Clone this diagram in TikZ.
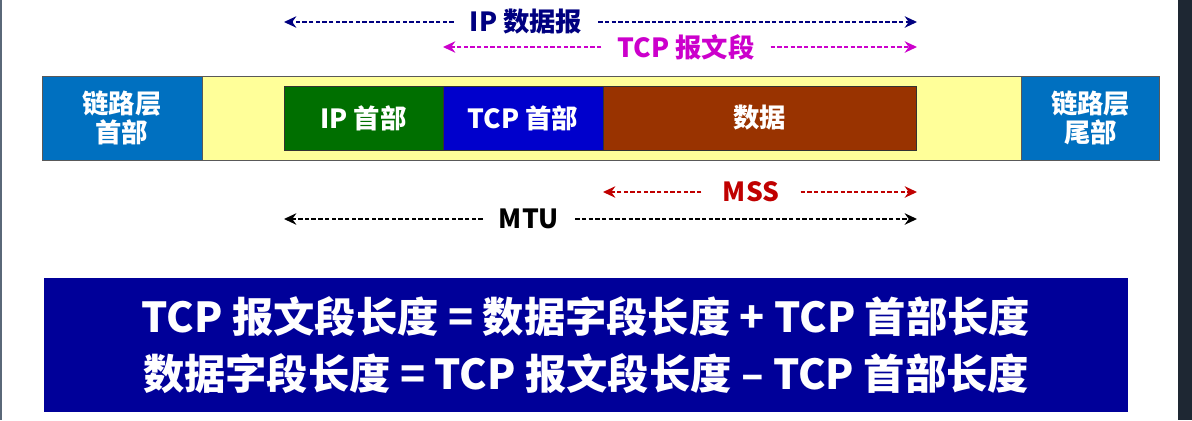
\documentclass[tikz,border=0pt]{standalone}
\usepackage{fontspec}
\setmainfont{Noto Sans CJK SC}
\usetikzlibrary{arrows.meta, positioning}
\definecolor{LinkBlue}{HTML}{0070C0}
\definecolor{PadYellow}{HTML}{FFFF99}
\definecolor{IpGreen}{HTML}{006F00}
\definecolor{TcpBlue}{HTML}{0000CC}
\definecolor{DataBrown}{HTML}{993300}
\definecolor{NavyArrow}{HTML}{000080}
\definecolor{SegMagenta}{HTML}{CC00CC}
\definecolor{MssRed}{HTML}{C00000}
\definecolor{FormulaBlue}{HTML}{000099}
\definecolor{EdgeGrey}{HTML}{5A6878}
\definecolor{SideDark}{HTML}{1E2733}

\begin{document}
\begin{tikzpicture}[x=0.02cm, y=-0.02cm,
            field/.style={rectangle, inner sep=0pt, outer sep=0pt, align=center, text=white, font=\fontsize{15}{17}\selectfont\bfseries},
            frame/.style={field, minimum height=1.68cm, draw=gray!70!black, line width=0.5pt},
            part/.style={field, minimum height=1.28cm, draw=black!80, line width=0.5pt},
            span/.style={font=\fontsize{15}{17}\selectfont\bfseries, inner ysep=0pt, inner xsep=9pt},
            dim/.style={-{Stealth[length=7pt, width=6.5pt]}, line width=1.1pt, dash pattern=on 2.5pt off 1.3pt},
            formula/.style={rectangle, fill=FormulaBlue, text=white, align=center, minimum width=21.68cm, minimum height=2.68cm, font=\fontsize{23.5}{32}\selectfont\bfseries}
        ]
            \fill[white] (0,0) rectangle (1192,420);
            \fill[EdgeGrey] (0,0) rectangle (2,420);
            \fill[SideDark] (1178,0) rectangle (1192,420);

            \node[frame, fill=LinkBlue, minimum width=3.2cm, anchor=north west] (linkhdr) at (42,76) {链路层\\首部};
            \node[frame, fill=PadYellow, minimum width=16.4cm, right=0pt of linkhdr] (payload) {};
            \node[frame, fill=LinkBlue, minimum width=2.76cm, right=0pt of payload] (linktrl) {链路层\\尾部};

            \node[part, fill=IpGreen, minimum width=3.18cm, anchor=west] (iphdr) at (284,118) {IP 首部};
            \node[part, fill=TcpBlue, minimum width=3.2cm, right=0pt of iphdr] (tcphdr) {TCP 首部};
            \node[part, fill=DataBrown, minimum width=6.28cm, right=0pt of tcphdr] (data) {数据};

            \coordinate (ipL) at (284,22);
            \coordinate (ipR) at (917,22);
            \node[span, text=NavyArrow] (iplabel) at (526,22) {IP 数据报};
            \draw[dim, NavyArrow] (iplabel.west) -- (ipL);
            \draw[dim, NavyArrow] (iplabel.east) -- (ipR);

            \coordinate (segL) at (443,47);
            \coordinate (segR) at (917,47);
            \node[span, text=SegMagenta] (seglabel) at (686,47) {TCP 报文段};
            \draw[dim, SegMagenta] (seglabel.west) -- (segL);
            \draw[dim, SegMagenta] (seglabel.east) -- (segR);

            \coordinate (mssL) at (603,192);
            \coordinate (mssR) at (917,192);
            \node[span, text=MssRed, inner xsep=12pt] (msslabel) at (751,192) {MSS};
            \draw[dim, MssRed] (msslabel.west) -- (mssL);
            \draw[dim, MssRed] (msslabel.east) -- (mssR);

            \coordinate (mtuL) at (284,219);
            \coordinate (mtuR) at (917,219);
            \node[span, text=black] (mtulabel) at (529,219) {MTU};
            \draw[dim, black] (mtulabel.west) -- (mtuL);
            \draw[dim, black] (mtulabel.east) -- (mtuR);

            \node[formula] (formula) at (586,345) {TCP 报文段长度 = 数据字段长度 + TCP 首部长度\\数据字段长度 = TCP 报文段长度 – TCP 首部长度};
        \end{tikzpicture}
\end{document}
